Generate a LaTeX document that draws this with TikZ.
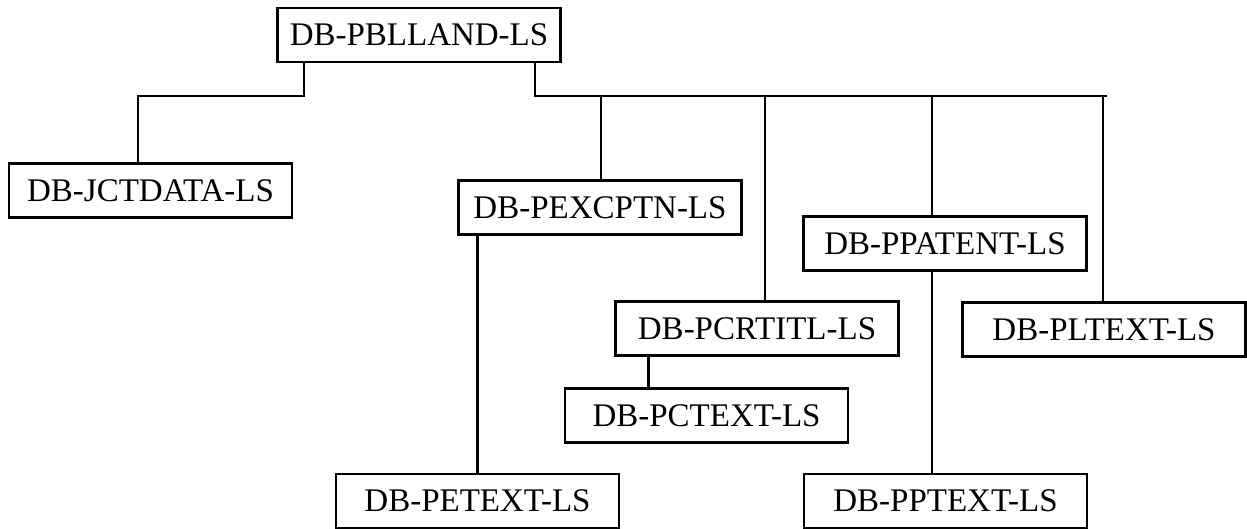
\documentclass[tikz,border=0pt]{standalone}
\usepackage{fontspec}
\setmainfont{Liberation Serif}
\usetikzlibrary{calc}

\begin{document}
\begin{tikzpicture}[x=1pt,y=-1pt, box/.style={draw, line width=2.8pt,
    minimum width=283pt, minimum height=54pt, inner sep=0pt,
    font=\fontsize{33}{38}\selectfont}, wire/.style={line width=2.8pt}]
    \useasboundingbox (0,0) rectangle (1247,529);
    \node[box] (pblland) at (419,35) {DB-PBLLAND-LS};
    \node[box] (jctdata) at (150.5,190.5) {DB-JCTDATA-LS};
    \node[box] (pexcptn) at (600,207.5) {DB-PEXCPTN-LS};
    \node[box] (ppatent) at (945,243.5) {DB-PPATENT-LS};
    \node[box] (pcrtitl) at (757,328.5) {DB-PCRTITL-LS};
    \node[box] (pltext) at (1104,329.5) {DB-PLTEXT-LS};
    \node[box] (pctext) at (706.5,415.5) {DB-PCTEXT-LS};
    \node[box] (petext) at (477.5,501) {DB-PETEXT-LS};
    \node[box] (pptext) at (945.5,501) {DB-PPTEXT-LS};
    \coordinate (lbus) at (304,96);
    \coordinate (jct) at (138,96);
    \coordinate (rbus) at (535,96);
    \coordinate (rend) at (1107,96);
    \coordinate (pex) at (601,96);
    \coordinate (pcr) at (765,96);
    \coordinate (ppa) at (932,96);
    \coordinate (plt) at (1103,96);
    \coordinate (pcdrop) at ($(pcrtitl.south west)!0.12!(pcrtitl.south east)$);
    \draw[wire] (lbus |- pblland.south) -- (lbus) -- (jct) -- (jct |- jctdata.north);
    \draw[wire] (rbus |- pblland.south) -- (rbus) -- (rend);
    \draw[wire] (pex) -- (pex |- pexcptn.north);
    \draw[wire] (pcr) -- (pcr |- pcrtitl.north);
    \draw[wire] (ppa) -- (ppa |- ppatent.north);
    \draw[wire] (plt) -- (plt |- pltext.north);
    \draw[wire] (pexcptn.south -| petext.north) -- (petext.north);
    \draw[wire] (ppa |- ppatent.south) -- (ppa |- pptext.north);
    \draw[wire] (pcdrop) -- (pcdrop |- pctext.north);
\end{tikzpicture}
\end{document}
